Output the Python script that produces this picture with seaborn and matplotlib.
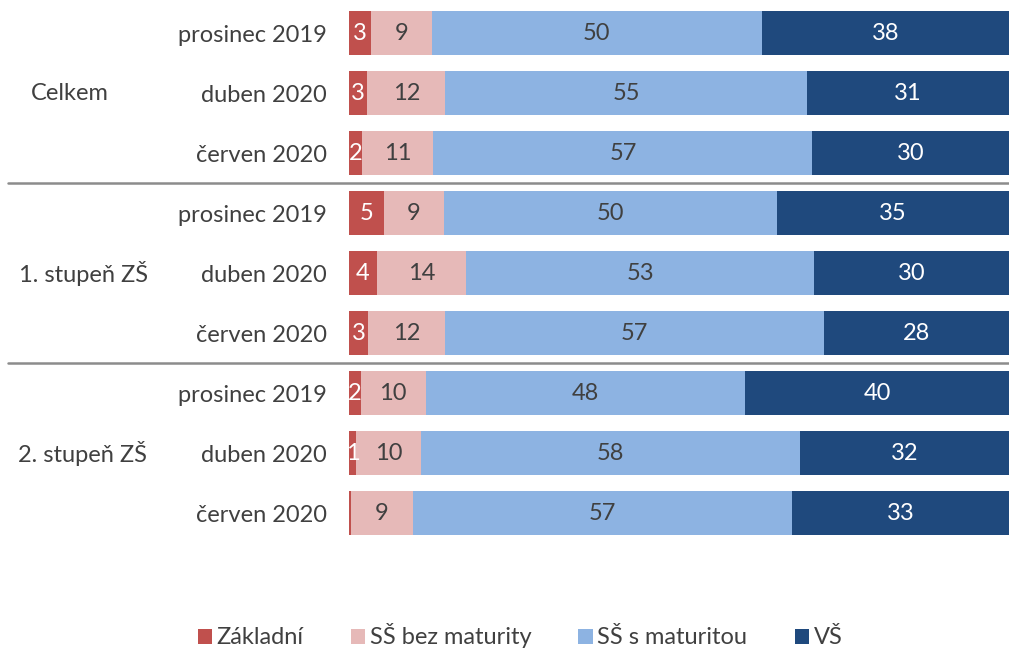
import numpy as np
import pandas as pd
import matplotlib.pyplot as plt
import seaborn as sns

sns.set_style("white")
plt.rcParams["font.family"] = ["Lato", "DejaVu Sans"]

# data
groups = ["Celkem", "1. stupeň ZŠ", "2. stupeň ZŠ"]
periods = ["prosinec 2019", "duben 2020", "červen 2020"]
series = ["Základní", "SŠ bez maturity", "SŠ s maturitou", "VŠ"]
zakladni = [3.4, 2.8, 2.0, 5.3, 4.2, 2.9, 1.8, 1.1, 0.3]
ss_bez = [9.1, 11.8, 10.8, 9.1, 13.6, 11.7, 9.8, 9.8, 9.4]
ss_s = [50.0, 54.8, 57.4, 50.4, 52.6, 57.4, 48.4, 57.5, 57.4]
vs = [37.5, 30.6, 29.8, 35.2, 29.6, 28.0, 40.0, 31.6, 32.9]

COLORS = ["#C0504D", "#E6B9B8", "#8DB3E2", "#1F497D"]
TEXT_COLORS = ["white", "#404040", "#404040", "white"]
FS = 17

df = pd.DataFrame({"Základní": zakladni, "SŠ bez maturity": ss_bez,
                   "SŠ s maturitou": ss_s, "VŠ": vs})
df["row"] = [str(i) for i in range(len(df))]
cum = df[series].cumsum(axis=1)

fig = plt.figure(figsize=(10.09, 6.5), dpi=100)
ax = fig.add_axes([349 / 1009, 1 - 543 / 650, 660 / 1009, 540 / 650])

# stacked bars: draw cumulative totals from the widest layer down
for i in range(len(series) - 1, -1, -1):
    sns.barplot(x=cum[series[i]], y=df["row"], orient="h", color=COLORS[i],
                width=0.73, linewidth=0, saturation=1, ax=ax, label=series[i])

# segment labels
for r in range(len(df)):
    left = 0
    for i, s in enumerate(series):
        w = df.loc[r, s]
        if w >= 0.5:
            ax.text(left + w / 2, r, f"{w:.0f}", ha="center", va="center",
                    fontsize=FS, color=TEXT_COLORS[i])
        left += w

ax.set_xlim(0, 100)
ax.set_ylim(8.5, -0.5)
ax.set_xticks([])
ax.set_xlabel("")
ax.set_ylabel("")
ax.set_yticks(range(9))
ax.set_yticklabels(periods * 3, fontsize=FS, color="#404040")
ax.tick_params(axis="y", length=0, pad=16)
sns.despine(ax=ax, left=True, bottom=True)

# group labels
for g, (name, xc) in enumerate(zip(groups, [70, 84, 82])):
    ax.text(-(349 - xc) / 6.6, g * 3 + 1, name, ha="center", va="center",
            fontsize=FS, color="#404040")

# separators between groups
for y in [2.5, 5.5]:
    ax.axhline(y, xmin=-(349 - 8) / 660, xmax=1, color="#8C8C8C",
               linewidth=1.8, clip_on=False)

handles, labels = ax.get_legend_handles_labels()
order = [labels.index(s) for s in series]
leg = ax.legend([handles[k] for k in order], series, loc="center",
                bbox_to_anchor=(520 / 1009, 1 - 636 / 650),
                bbox_transform=fig.transFigure, ncol=4, frameon=False,
                fontsize=FS, handlelength=0.6, handleheight=0.6,
                handletextpad=0.2, columnspacing=2.0)
for t in leg.get_texts():
    t.set_color("#404040")

fig.savefig("out.png", dpi=100)
